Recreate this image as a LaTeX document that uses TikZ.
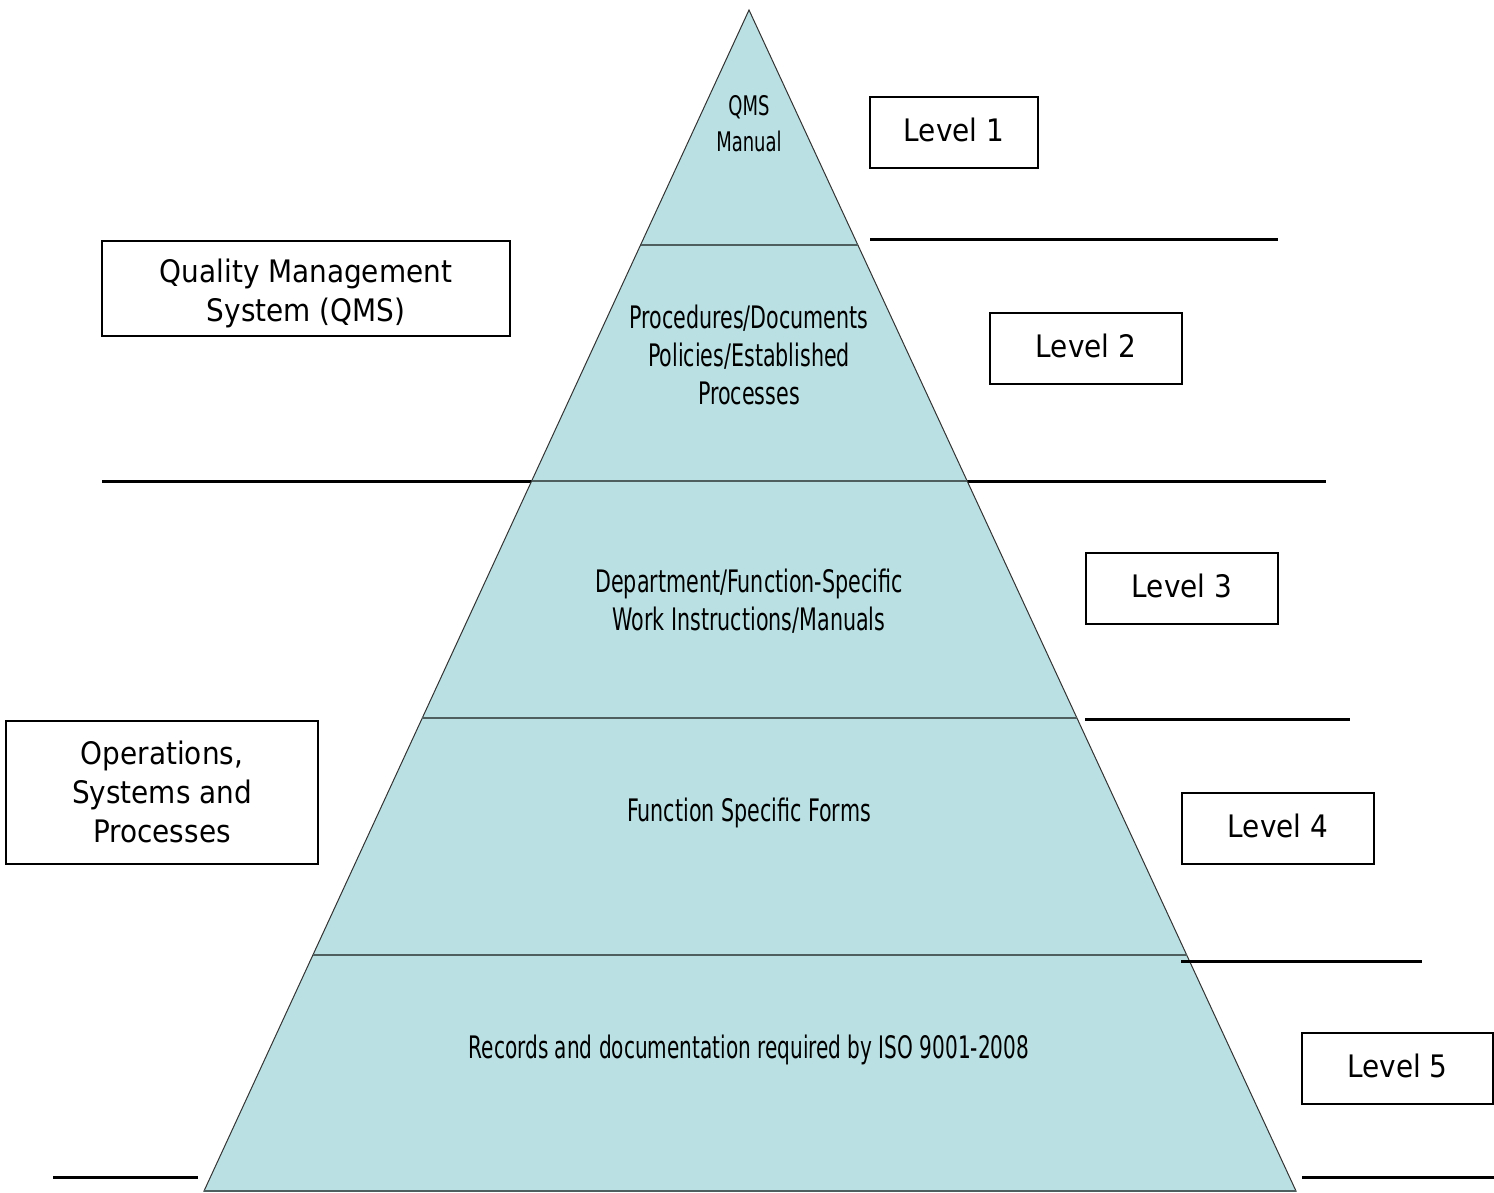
\documentclass[tikz,border=0pt]{standalone}
\usepackage{fontspec}
\usetikzlibrary{calc}
\newfontfamily\boxfont{DejaVu Sans Condensed}
\newfontfamily\pyrfont[FakeStretch=0.74]{DejaVu Sans Condensed}
\newfontfamily\pyrfontb[FakeStretch=0.72]{DejaVu Sans Condensed}
\definecolor{pyrfill}{HTML}{BAE0E3}
\definecolor{divline}{HTML}{4F5F60}
\tikzset{
  lvlbox/.style={draw=black, line width=2pt, fill=white, inner sep=0pt},
  boxtext/.style={align=center, inner sep=0pt, font=\boxfont\fontsize{31}{39}\selectfont},
  pyrtext/.style={align=center, inner sep=0pt, font=\pyrfont\fontsize{31}{38}\selectfont},
  rule/.style={draw=black, line width=3pt},
  divider/.style={draw=divline, line width=2.6pt}
}
\begin{document}
\begin{tikzpicture}[x=1pt,y=-1pt]
\useasboundingbox (0,0) rectangle (1494,1193);
% rules behind pyramid
\coordinate (r3a) at (102,481); \coordinate (r3b) at (1326,481);
\draw[rule] (r3a) -- (r3b);
% pyramid
\coordinate (apex) at (749,10);
\coordinate (bl) at (204,1191);
\coordinate (br) at (1296,1191);
\path[fill=pyrfill, draw=black!80, line width=1pt] (apex) -- (bl) -- (br) -- cycle;
\foreach \t/\n in {0.19898/a,0.39882/b,0.59949/c,0.80017/d}{
  \coordinate (dl\n) at ($(apex)!\t!(bl)$);
  \coordinate (dr\n) at ($(apex)!\t!(br)$);
  \draw[divider] (dl\n) -- (dr\n);
}
\draw[draw=divline, line width=2pt] (bl) -- (br);
% other rules
\coordinate (r2a) at (870,240); \coordinate (r2b) at (1278,240);
\draw[rule] (r2a) -- (r2b);
\coordinate (r4a) at (1085,719); \coordinate (r4b) at (1350,719);
\draw[rule] (r4a) -- (r4b);
\coordinate (r5a) at (1181,961); \coordinate (r5b) at (1422,961);
\draw[rule] (r5a) -- (r5b);
\coordinate (r6a) at (53,1177); \coordinate (r6b) at (198,1177);
\draw[rule] (r6a) -- (r6b);
\coordinate (r7a) at (1302,1177); \coordinate (r7b) at (1494,1177);
\draw[rule] (r7a) -- (r7b);
% pyramid texts
\node[pyrtext, font=\pyrfont\fontsize{27}{36}\selectfont] (t1) at (749,124) {QMS\\Manual};
\node[pyrtext] (t2) at (749,355) {Procedures/Documents\\Policies/Established\\Processes};
\node[pyrtext] (t3) at (749,601) {Department/Function-Specific\\Work Instructions/Manuals};
\node[pyrtext] (t4) at (749,813) {Function Specific Forms};
\node[pyrtext, font=\pyrfontb\fontsize{31}{38}\selectfont] (t5) at (749,1050) {Records and documentation required by ISO 9001-2008};
% boxes
\node[lvlbox, minimum width=168pt, minimum height=71pt] (l1) at (954,132.5) {};
\node[lvlbox, minimum width=192pt, minimum height=71pt] (l2) at (1086,348.5) {};
\node[lvlbox, minimum width=192pt, minimum height=71pt] (l3) at (1182,588.5) {};
\node[lvlbox, minimum width=192pt, minimum height=71pt] (l4) at (1278,828.5) {};
\node[lvlbox, minimum width=191pt, minimum height=71pt] (l5) at (1397.5,1068.5) {};
\node[lvlbox, minimum width=408pt, minimum height=95pt] (qms) at (306,288.5) {};
\node[lvlbox, minimum width=312pt, minimum height=143pt] (ops) at (162,792.5) {};
\node[boxtext] (l1t) at ($(l1)+(0,-3)$) {Level 1};
\node[boxtext] (l2t) at ($(l2)+(0,-3)$) {Level 2};
\node[boxtext] (l3t) at ($(l3)+(0,-3)$) {Level 3};
\node[boxtext] (l4t) at ($(l4)+(0,-3)$) {Level 4};
\node[boxtext] (l5t) at ($(l5)+(0,-3)$) {Level 5};
\node[boxtext] (qmst) at ($(qms)+(0,5)$) {Quality Management\\System (QMS)};
\node[boxtext] (opst) at ($(ops)+(0,-1)$) {Operations,\\Systems and\\Processes};
\end{tikzpicture}
\end{document}
